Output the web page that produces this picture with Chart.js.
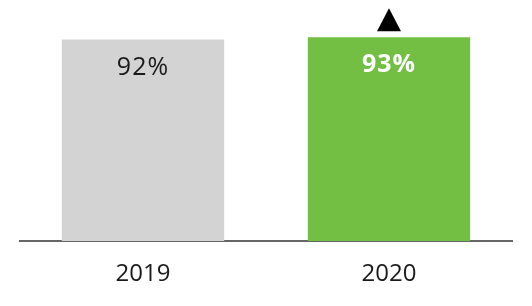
<!DOCTYPE html>
<html lang="en">
<head>
    <meta charset="UTF-8">
    <title>2019 vs 2020</title>
    <script src="https://cdn.jsdelivr.net/npm/chart.js"></script>
    <style>
        body { margin: 0; background: #fff; }
        #wrap { width: 532px; height: 306px; }
    </style>
</head>
<body>
    <div id="wrap"><canvas id="grafico"></canvas></div>

    <script>
        const years = ['2019', '2020'];
        const values = [92, 93];
        const barColors = ['#d3d3d3', '#72bf44'];
        const labelColors = ['#1a1a1a', '#ffffff'];
        const labelBold = [false, true];
        const trend = [null, 'up'];

        // value labels inside the bars + the up arrow above 2020
        const barLabels = {
            id: 'barLabels',
            afterDatasetsDraw(chart) {
                const ctx = chart.ctx;
                const meta = chart.getDatasetMeta(0);
                meta.data.forEach((bar, i) => {
                    ctx.save();
                    ctx.font = (labelBold[i] ? 'bold ' : '') + '25px "Open Sans"';
                    ctx.letterSpacing = '1px';
                    ctx.fillStyle = labelColors[i];
                    ctx.textAlign = 'center';
                    ctx.textBaseline = 'middle';
                    ctx.fillText(values[i] + '%', bar.x, bar.y + 28);
                    if (trend[i] === 'up') {
                        ctx.fillStyle = '#000';
                        ctx.beginPath();
                        ctx.moveTo(bar.x - 12, bar.y - 6);
                        ctx.lineTo(bar.x + 12, bar.y - 6);
                        ctx.lineTo(bar.x, bar.y - 29);
                        ctx.closePath();
                        ctx.fill();
                    }
                    ctx.restore();
                });
            }
        };

        new Chart(document.getElementById('grafico'), {
            type: 'bar',
            data: {
                labels: years,
                datasets: [{
                    data: values,
                    backgroundColor: barColors,
                    categoryPercentage: 1,
                    barPercentage: 0.66
                }]
            },
            options: {
                responsive: true,
                maintainAspectRatio: false,
                animation: false,
                layout: { padding: { left: 20, right: 20, top: 0, bottom: 0 } },
                plugins: { legend: { display: false }, tooltip: { enabled: false } },
                scales: {
                    x: {
                        grid: { display: false },
                        border: { color: '#666', width: 2 },
                        ticks: { color: '#1a1a1a', font: { family: 'Open Sans', size: 24 }, padding: 11 },
                        afterFit: (scale) => { scale.height = 65; }
                    },
                    y: {
                        display: false,
                        min: 0,
                        max: 110
                    }
                }
            },
            plugins: [barLabels]
        });
    </script>
</body>
</html>
